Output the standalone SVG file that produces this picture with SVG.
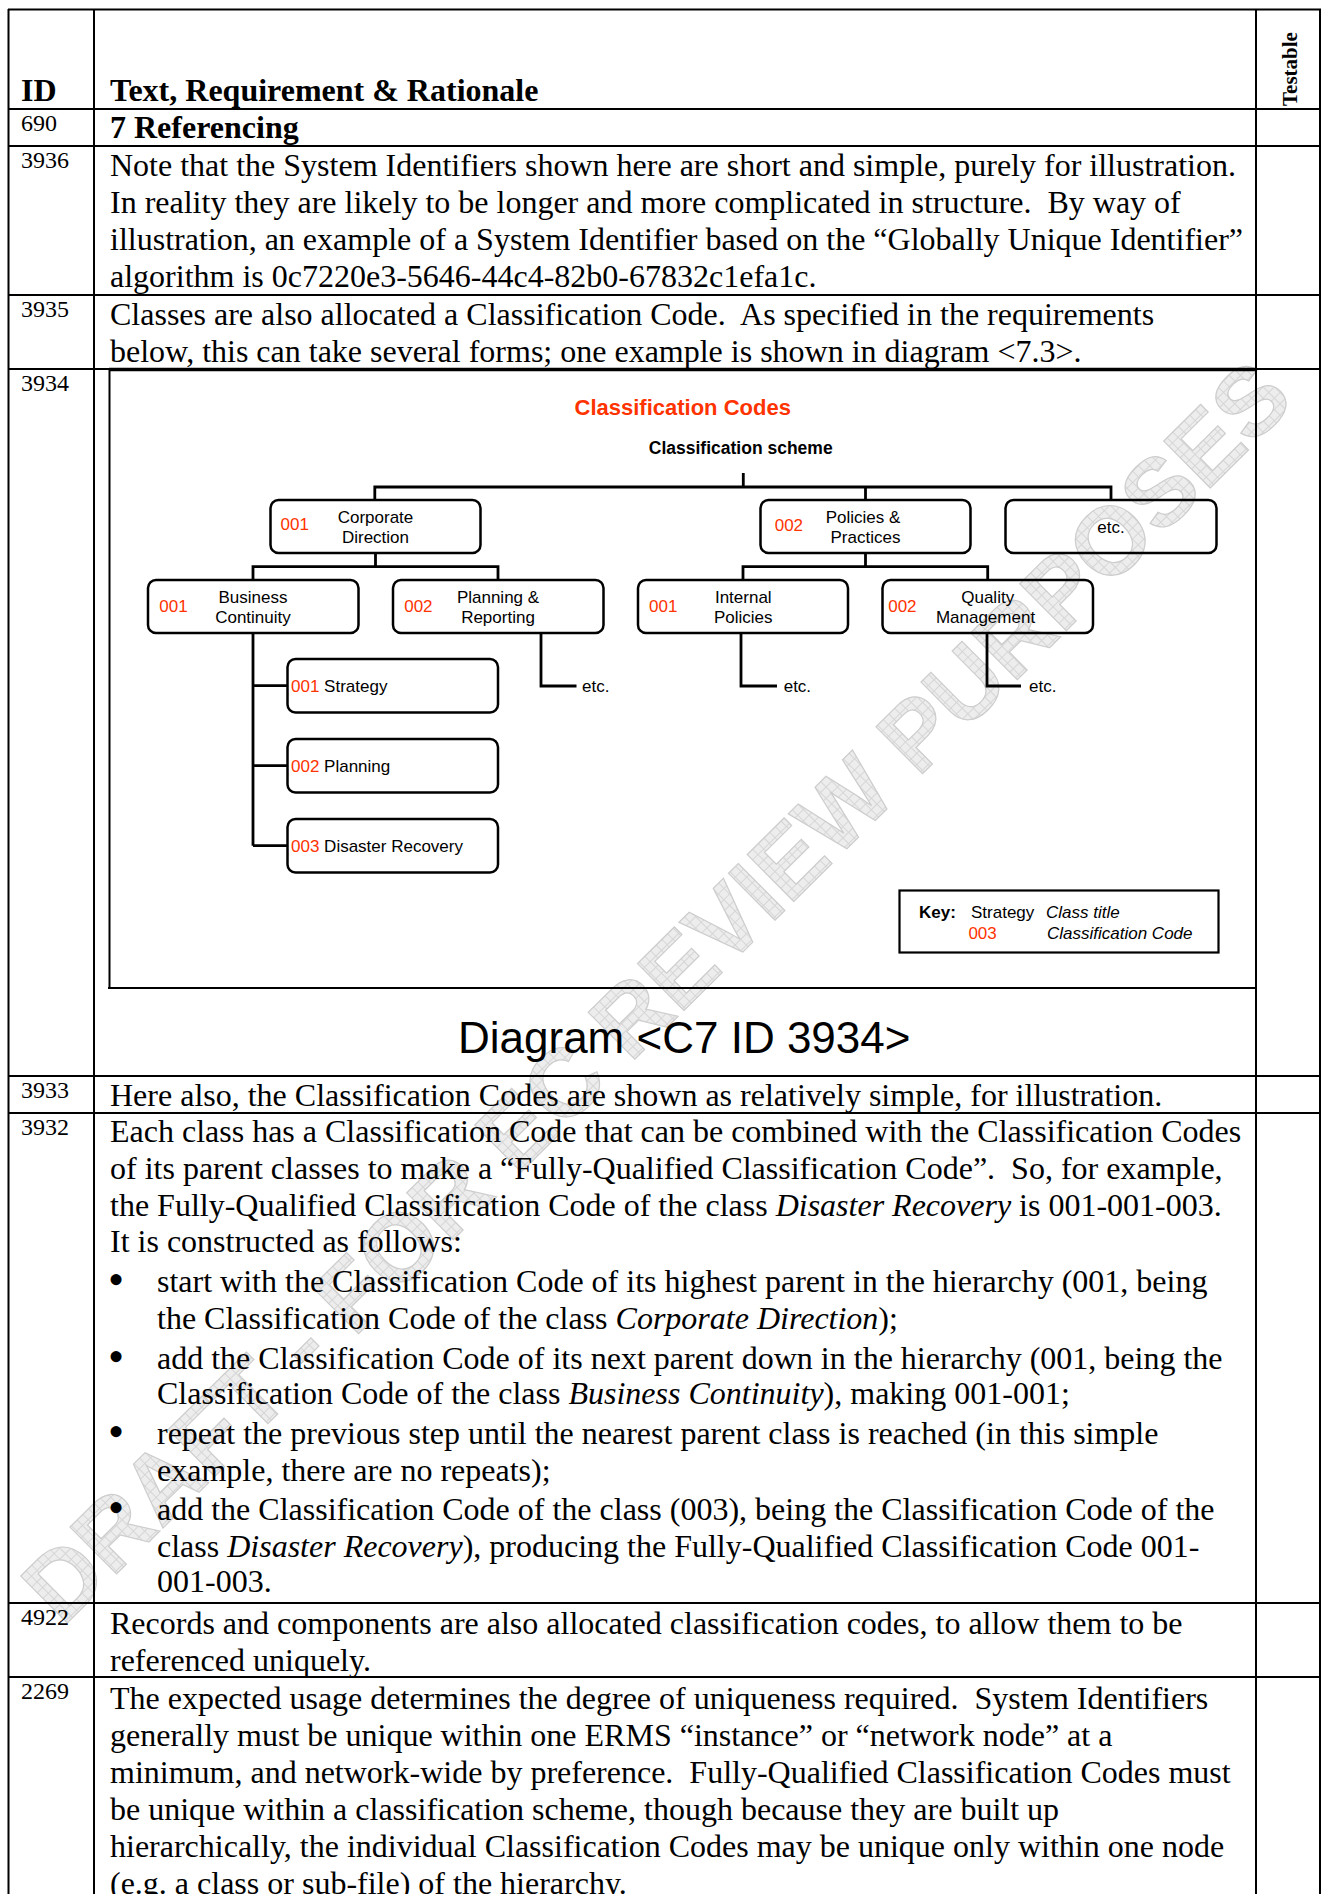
<svg xmlns="http://www.w3.org/2000/svg" width="1323" height="1894" viewBox="0 0 1323 1894">
<defs>
<style>
.b{font-family:"Liberation Serif","Times New Roman",serif;font-size:32px;fill:#000;white-space:pre}
.bul{font-family:"Liberation Serif","Times New Roman",serif;font-size:46px;fill:#000}
.i{font-style:italic}
.id{font-family:"Liberation Serif","Times New Roman",serif;font-size:24px;fill:#000}
.h{font-family:"Liberation Serif","Times New Roman",serif;font-size:32px;font-weight:bold;fill:#000}
.d{font-family:"Liberation Sans",Arial,sans-serif;font-size:17px;fill:#000}
.m{text-anchor:middle}
.r{fill:#FF3300}
.box{fill:none;stroke:#000;stroke-width:2.5}
.con{fill:none;stroke:#000;stroke-width:2.8}
.grid{stroke:#000;stroke-width:2;fill:none}
.wm{font-family:"Liberation Sans",Arial,sans-serif;font-size:96px;font-weight:bold;fill:url(#hatch);stroke:#cdcdcd;stroke-width:1.2}
</style>
<pattern id="hatch" width="8" height="8" patternUnits="userSpaceOnUse">
<rect width="8" height="8" fill="#ededed"/>
<path d="M0 0.5H8M0.5 0V8" stroke="#d6d6d6" stroke-width="1"/>
</pattern>
</defs>
<rect width="1323" height="1894" fill="#fff"/>

<g id="watermark" transform="translate(655,990) rotate(-44.8)">
<text class="wm" x="0" y="35" text-anchor="middle" xml:space="preserve">DRAFT - FOR EC REVIEW PURPOSES</text>
</g>

<g id="table-grid">
<path class="grid" d="M8 9.5H1321M8.5 9V1894M1320 9V1894M94 9V1894M1256 9V1894"/>
<path class="grid" d="M8 109H1321M8 146H1321M8 295H1321M8 369H1321M8 1076H1321M8 1113H1321M8 1603H1321M8 1677H1321"/>
</g>

<g id="header">
<text class="h" x="21" y="100.5">ID</text>
<text class="h" x="110" y="100.5">Text, Requirement &amp; Rationale</text>
<text transform="translate(1297,106) rotate(-90)" style="font-family:'Liberation Serif','Times New Roman',serif;font-size:21px;font-weight:bold">Testable</text>
</g>

<g id="row-690">
<text class="id" x="21" y="131">690</text>
<text class="h" x="110" y="137.5">7 Referencing</text>
</g>

<g id="row-3936">
<text class="id" x="21" y="168">3936</text>
<text class="b" x="110" y="175.5">Note that the System Identifiers shown here are short and simple, purely for illustration.</text>
<text class="b" x="110" y="212.5">In reality they are likely to be longer and more complicated in structure.  By way of</text>
<text class="b" x="110" y="249.5">illustration, an example of a System Identifier based on the “Globally Unique Identifier”</text>
<text class="b" x="110" y="286.5">algorithm is 0c7220e3-5646-44c4-82b0-67832c1efa1c.</text>
</g>

<g id="row-3935">
<text class="id" x="21" y="317">3935</text>
<text class="b" x="110" y="324.5">Classes are also allocated a Classification Code.  As specified in the requirements</text>
<text class="b" x="110" y="361.5">below, this can take several forms; one example is shown in diagram &lt;7.3&gt;.</text>
</g>

<g id="row-3934">
<text class="id" x="21" y="391">3934</text>
<path d="M109.5 369V988M108 988H1256" stroke="#000" stroke-width="2" fill="none"/>
<path d="M109 369.5H1256" stroke="#000" stroke-width="3.5" fill="none"/>
<text x="574.5" y="415" style="font-family:'Liberation Sans',Arial,sans-serif;font-size:22px;font-weight:bold;fill:#FF3300">Classification Codes</text>
<text x="648.8" y="453.5" style="font-family:'Liberation Sans',Arial,sans-serif;font-size:17.5px;font-weight:bold">Classification scheme</text>

<g id="connectors">
<path class="con" d="M743.3 473V487M374.8 500V487H1111V500M865.5 487V500"/>
<path class="con" d="M375.5 553V566.7M253 580V566.7H498V580"/>
<path class="con" d="M865.5 553V566.7M743 580V566.7H987.7V580"/>
<path class="con" d="M253 633V845.7M253 685.7H287.5M253 765.7H287.5M253 845.7H287.5"/>
<path class="con" d="M541 633V686H576.5M741 633V686H777M987 633V686H1021"/>
</g>

<g id="n-corporate-direction">
<rect class="box" x="270.5" y="500" width="210" height="53" rx="8"/>
<text class="d r" x="280.5" y="530">001</text>
<text class="d m" x="375.5" y="522.7">Corporate</text>
<text class="d m" x="375.5" y="543.3">Direction</text>
</g>
<g id="n-policies-practices">
<rect class="box" x="760.5" y="500" width="210" height="53" rx="8"/>
<text class="d r" x="774.7" y="531">002</text>
<text class="d m" x="863" y="522.7">Policies &amp;</text>
<text class="d m" x="865.5" y="543.3">Practices</text>
</g>
<g id="n-etc-top">
<rect class="box" x="1005.5" y="500" width="211" height="53" rx="8"/>
<text class="d m" x="1111" y="532.5">etc.</text>
</g>
<g id="n-business-continuity">
<rect class="box" x="148" y="580" width="210.5" height="53" rx="8"/>
<text class="d r" x="159.3" y="611.5">001</text>
<text class="d m" x="253" y="603.3">Business</text>
<text class="d m" x="253" y="623.3">Continuity</text>
</g>
<g id="n-planning-reporting">
<rect class="box" x="393" y="580" width="210.5" height="53" rx="8"/>
<text class="d r" x="404.2" y="611.5">002</text>
<text class="d m" x="498" y="603.3">Planning &amp;</text>
<text class="d m" x="498" y="623.3">Reporting</text>
</g>
<g id="n-internal-policies">
<rect class="box" x="638" y="580" width="210" height="53" rx="8"/>
<text class="d r" x="649" y="611.5">001</text>
<text class="d m" x="743.3" y="603.3">Internal</text>
<text class="d m" x="743.3" y="623.3">Policies</text>
</g>
<g id="n-quality-management">
<rect class="box" x="882.5" y="580" width="210.5" height="53" rx="8"/>
<text class="d r" x="888.2" y="611.5">002</text>
<text class="d m" x="987.7" y="603.3">Quality</text>
<text class="d m" x="985.5" y="623.3">Management</text>
</g>
<g id="n-strategy">
<rect class="box" x="287.5" y="659" width="210.5" height="53.5" rx="8"/>
<text class="d" x="291" y="691.5"><tspan class="r">001</tspan> Strategy</text>
</g>
<g id="n-planning">
<rect class="box" x="287.5" y="739" width="210.5" height="53.5" rx="8"/>
<text class="d" x="291" y="771.8"><tspan class="r">002</tspan> Planning</text>
</g>
<g id="n-disaster-recovery">
<rect class="box" x="287.5" y="819" width="210.5" height="53.5" rx="8"/>
<text class="d" x="291" y="851.5"><tspan class="r">003</tspan> Disaster Recovery</text>
</g>
<g id="etc-leaders">
<text class="d" x="582" y="691.5">etc.</text>
<text class="d" x="783.7" y="691.5">etc.</text>
<text class="d" x="1029" y="691.5">etc.</text>
</g>
<g id="key">
<rect x="899.5" y="890.5" width="319" height="62" fill="none" stroke="#000" stroke-width="2.2"/>
<text class="d" x="919" y="918" style="font-weight:bold">Key:</text>
<text class="d" x="971" y="918">Strategy</text>
<text class="d i" x="1046" y="918">Class title</text>
<text class="d r" x="968.4" y="939">003</text>
<text class="d i" x="1047" y="939">Classification Code</text>
</g>
<text x="458" y="1053" style="font-family:'Liberation Sans',Arial,sans-serif;font-size:44px">Diagram &lt;C7 ID 3934&gt;</text>
</g>

<g id="row-3933">
<text class="id" x="21" y="1098">3933</text>
<text class="b" x="110" y="1105.5">Here also, the Classification Codes are shown as relatively simple, for illustration.</text>
</g>

<g id="row-3932">
<text class="id" x="21" y="1135">3932</text>
<text class="b" x="110" y="1142">Each class has a Classification Code that can be combined with the Classification Codes</text>
<text class="b" x="110" y="1179">of its parent classes to make a “Fully-Qualified Classification Code”.  So, for example,</text>
<text class="b" x="110" y="1216">the Fully-Qualified Classification Code of the class <tspan class="i">Disaster Recovery</tspan> is 001-001-003.</text>
<text class="b" x="110" y="1252">It is constructed as follows:</text>
<text class="bul" x="108" y="1295">•</text>
<text class="b" x="157" y="1292">start with the Classification Code of its highest parent in the hierarchy (001, being</text>
<text class="b" x="157" y="1329">the Classification Code of the class <tspan class="i">Corporate Direction</tspan>);</text>
<text class="bul" x="108" y="1372">•</text>
<text class="b" x="157" y="1369">add the Classification Code of its next parent down in the hierarchy (001, being the</text>
<text class="b" x="157" y="1404">Classification Code of the class <tspan class="i">Business Continuity</tspan>), making 001-001;</text>
<text class="bul" x="108" y="1447">•</text>
<text class="b" x="157" y="1444">repeat the previous step until the nearest parent class is reached (in this simple</text>
<text class="b" x="157" y="1481">example, there are no repeats);</text>
<text class="bul" x="108" y="1523">•</text>
<text class="b" x="157" y="1520">add the Classification Code of the class (003), being the Classification Code of the</text>
<text class="b" x="157" y="1557">class <tspan class="i">Disaster Recovery</tspan>), producing the Fully-Qualified Classification Code 001-</text>
<text class="b" x="157" y="1592">001-003.</text>
</g>

<g id="row-4922">
<text class="id" x="21" y="1625">4922</text>
<text class="b" x="110" y="1634">Records and components are also allocated classification codes, to allow them to be</text>
<text class="b" x="110" y="1671">referenced uniquely.</text>
</g>

<g id="row-2269">
<text class="id" x="21" y="1699">2269</text>
<text class="b" x="110" y="1709">The expected usage determines the degree of uniqueness required.  System Identifiers</text>
<text class="b" x="110" y="1746">generally must be unique within one ERMS “instance” or “network node” at a</text>
<text class="b" x="110" y="1783">minimum, and network-wide by preference.  Fully-Qualified Classification Codes must</text>
<text class="b" x="110" y="1820">be unique within a classification scheme, though because they are built up</text>
<text class="b" x="110" y="1857">hierarchically, the individual Classification Codes may be unique only within one node</text>
<text class="b" x="110" y="1894">(e.g. a class or sub-file) of the hierarchy.</text>
</g>
</svg>
